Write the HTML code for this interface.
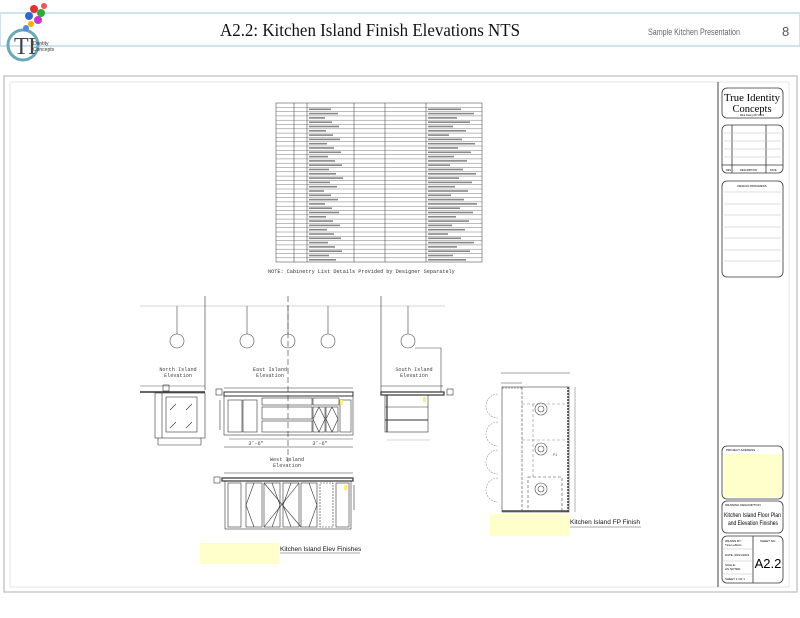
<!DOCTYPE html>
<html><head><meta charset="utf-8"><style>
html,body{margin:0;padding:0;background:#fff;width:800px;height:618px;overflow:hidden}
svg{display:block}
</style></head><body>
<svg width="800" height="618" viewBox="0 0 800 618" xmlns="http://www.w3.org/2000/svg" font-family="Liberation Sans, sans-serif">
<!-- header -->
<rect x="0" y="13" width="800" height="33" fill="#fff" stroke="#cfe3ee" stroke-width="2"/>
<text x="220" y="36" font-family="Liberation Serif, serif" font-size="18" fill="#111" textLength="300" lengthAdjust="spacingAndGlyphs">A2.2: Kitchen Island Finish Elevations NTS</text>
<text x="648" y="35" font-size="9" fill="#666" textLength="92" lengthAdjust="spacingAndGlyphs">Sample Kitchen Presentation</text>
<text x="782" y="36" font-size="13" fill="#555">8</text>
<!-- logo -->
<circle cx="23" cy="45" r="15" fill="none" stroke="#6aa7b8" stroke-width="3"/>
<text x="14" y="54" font-family="Liberation Serif, serif" font-size="24" fill="#444">T</text>
<text x="28" y="54" font-family="Liberation Serif, serif" font-size="24" fill="#444">I</text>
<text x="33" y="45" font-size="5" fill="#333">Dentity</text>
<text x="33" y="51" font-size="5" fill="#333">Concepts</text>
<g>
<circle cx="34" cy="9" r="4" fill="#d33"/><circle cx="41" cy="13" r="4" fill="#3a3"/><circle cx="29" cy="16" r="4" fill="#36c"/><circle cx="38" cy="20" r="4" fill="#c3c"/><circle cx="31" cy="24" r="3" fill="#fa0"/><circle cx="44" cy="6" r="3" fill="#e55"/><circle cx="26" cy="28" r="3" fill="#58d"/>
</g>
<!-- frames -->
<rect x="4" y="76" width="793" height="516" fill="none" stroke="#c8c8c8" stroke-width="1.5"/>
<rect x="10" y="82" width="779" height="505" fill="none" stroke="#e4e4e4" stroke-width="1"/>
<line x1="718" y1="82" x2="718" y2="587" stroke="#444" stroke-width="1"/>
<!-- title block -->
<g fill="none" stroke="#333" stroke-width="0.8">
<rect x="722" y="88" width="61" height="30" rx="5"/>
<rect x="722" y="125" width="61" height="48" rx="5"/>
<line x1="732" y1="125" x2="732" y2="173"/><line x1="766" y1="125" x2="766" y2="173"/>
<line x1="722" y1="165" x2="783" y2="165"/>
<rect x="722" y="181" width="61" height="96" rx="5"/>
<rect x="722" y="446" width="61" height="53" rx="5"/>
<rect x="722" y="501" width="61" height="32" rx="5"/>
<rect x="722" y="536" width="61" height="47" rx="5"/>
<line x1="753" y1="536" x2="753" y2="583"/>
</g>
<g stroke="#bbb" stroke-width="0.5">
<line x1="724" y1="133" x2="781" y2="133"/><line x1="724" y1="141" x2="781" y2="141"/><line x1="724" y1="149" x2="781" y2="149"/><line x1="724" y1="157" x2="781" y2="157"/>
<line x1="724" y1="192" x2="781" y2="192"/><line x1="724" y1="204" x2="781" y2="204"/><line x1="724" y1="215" x2="781" y2="215"/><line x1="724" y1="227" x2="781" y2="227"/><line x1="724" y1="238" x2="781" y2="238"/><line x1="724" y1="250" x2="781" y2="250"/><line x1="724" y1="261" x2="781" y2="261"/>
<line x1="722" y1="549" x2="753" y2="549"/><line x1="722" y1="561" x2="753" y2="561"/><line x1="722" y1="574" x2="753" y2="574"/>
</g>
<text x="752" y="101" font-family="Liberation Serif, serif" font-size="10.5" text-anchor="middle" textLength="56" lengthAdjust="spacingAndGlyphs">True Identity</text>
<text x="752" y="112" font-family="Liberation Serif, serif" font-size="10.5" text-anchor="middle">Concepts</text>
<text x="752" y="116" font-size="2.5" text-anchor="middle">Mina Fasey 607-0822</text>
<text x="726" y="171" font-size="2.5">REV</text><text x="740" y="171" font-size="2.5">DESCRIPTION</text><text x="770" y="171" font-size="2.5">DATE</text>
<text x="752" y="187" font-size="3" text-anchor="middle">DESIGN PROGRESS</text>
<rect x="724" y="454" width="57" height="43" fill="#ffffcc"/>
<text x="726" y="451" font-size="3">PROJECT ADDRESS</text>
<text x="725" y="506" font-size="3">DRAWING DESCRIPTION</text>
<text x="724" y="517" font-size="6" textLength="57" lengthAdjust="spacingAndGlyphs">Kitchen Island Floor Plan</text>
<text x="728" y="525" font-size="6" textLength="50" lengthAdjust="spacingAndGlyphs">and Elevation Finishes</text>
<text x="725" y="542" font-size="3">DRAWN BY:</text><text x="725" y="546" font-size="3">Tina Lefferts</text>
<text x="725" y="556" font-size="3">DATE: 09/21/2021</text>
<text x="725" y="566" font-size="3">SCALE:</text><text x="725" y="570" font-size="3">AS NOTED</text>
<text x="725" y="580" font-size="3">SHEET 1 OF 1</text>
<text x="760" y="542" font-size="3">SHEET NO.</text>
<text x="768" y="568" font-size="13" text-anchor="middle">A2.2</text>
<!-- table -->
<g fill="none" stroke="#333" stroke-width="0.5">
<rect x="276" y="103" width="206" height="159"/>
<line x1="294" y1="103" x2="294" y2="262"/><line x1="307" y1="103" x2="307" y2="262"/><line x1="354" y1="103" x2="354" y2="262"/><line x1="385" y1="103" x2="385" y2="262"/><line x1="426" y1="103" x2="426" y2="262"/>
</g>
<g id="rows" stroke="#555" stroke-width="0.4"></g>
<g id="rtext" fill="#666" font-size="2.6"></g>
<text x="268" y="273" font-family="Liberation Mono, monospace" font-size="5.2" fill="#333">NOTE: Cabinetry List Details Provided by Designer Separately</text>
<!-- elevations -->
<g fill="none" stroke="#333" stroke-width="0.6">
<line x1="140" y1="306" x2="445" y2="306" stroke="#aaa"/>
<line x1="205" y1="296" x2="205" y2="390"/>
<line x1="381" y1="296" x2="381" y2="392"/>
<line x1="288" y1="296" x2="288" y2="462" stroke-dasharray="6,3"/>
<g stroke="#444">
<line x1="177" y1="306" x2="177" y2="334"/><circle cx="177" cy="341" r="7"/>
<line x1="247" y1="306" x2="247" y2="334"/><circle cx="247" cy="341" r="7"/>
<line x1="288" y1="306" x2="288" y2="334"/><circle cx="288" cy="341" r="7"/>
<line x1="328" y1="306" x2="328" y2="334"/><circle cx="328" cy="341" r="7"/>
<line x1="408" y1="306" x2="408" y2="334"/><circle cx="408" cy="341" r="7"/>
<polyline points="415,348 441,348 441,392"/>
</g>
<!-- north -->
<line x1="140" y1="392" x2="205" y2="392" stroke-width="1.6"/>
<rect x="163" y="385" width="6" height="6"/>
<rect x="155" y="393" width="50" height="45"/>
<rect x="166" y="397" width="31" height="35"/>
<line x1="170" y1="410" x2="176" y2="404"/><line x1="186" y1="410" x2="192" y2="404"/>
<line x1="170" y1="428" x2="176" y2="422"/><line x1="186" y1="428" x2="192" y2="422"/>
<line x1="162" y1="393" x2="162" y2="438"/>
<line x1="158" y1="438" x2="158" y2="445"/><line x1="201" y1="438" x2="201" y2="445"/><line x1="158" y1="445" x2="201" y2="445"/>
<line x1="140" y1="386" x2="205" y2="386" stroke-width="0.4"/>
<!-- east -->
<rect x="224" y="392" width="129" height="4" stroke-width="1"/>
<rect x="224" y="396" width="129" height="39"/>
<rect x="228" y="400" width="14" height="32"/><rect x="243" y="400" width="14" height="32"/>
<rect x="262" y="398" width="50" height="7"/><rect x="262" y="407" width="50" height="12"/><rect x="262" y="421" width="50" height="11"/>
<rect x="313" y="398" width="26" height="7"/>
<rect x="313" y="407" width="12" height="25"/><rect x="326" y="407" width="12" height="25"/>
<polyline points="319,407 313,419 319,432 325,419 319,407"/><polyline points="332,407 326,419 332,432 338,419 332,407"/>
<rect x="340" y="400" width="11" height="32"/>
<line x1="220" y1="400" x2="220" y2="430"/>
<line x1="229" y1="439" x2="353" y2="439" stroke-width="0.4"/>
<line x1="224" y1="447" x2="353" y2="447" stroke-width="0.5"/>
<line x1="224" y1="388" x2="353" y2="388" stroke-width="0.5"/>
<rect x="216" y="389" width="6" height="6"/>
<!-- south -->
<rect x="381" y="392" width="63" height="3" stroke-width="1.2"/>
<rect x="385" y="395" width="43" height="37"/>
<line x1="385" y1="407" x2="428" y2="407"/><line x1="385" y1="420" x2="428" y2="420" stroke-width="1"/>
<line x1="387" y1="395" x2="387" y2="432" stroke-width="1.2"/>
<line x1="387" y1="440" x2="430" y2="440" stroke="#aaa"/>
<line x1="381" y1="386" x2="443" y2="386" stroke-width="0.5"/>
<rect x="447" y="389" width="6" height="6"/>
<!-- west -->
<rect x="222" y="478" width="131" height="3" stroke-width="1.2"/>
<rect x="225" y="481" width="126" height="48"/>
<rect x="228" y="483" width="13" height="44"/>
<rect x="246" y="483" width="16" height="44"/><rect x="264" y="483" width="16" height="44"/>
<rect x="283" y="483" width="16" height="44"/><rect x="301" y="483" width="16" height="44"/>
<polyline points="254,483 246,505 254,527"/><polyline points="272,483 280,505 272,527"/>
<polyline points="291,483 283,505 291,527"/><polyline points="309,483 317,505 309,527"/>
<line x1="264" y1="483" x2="301" y2="527"/><line x1="299" y1="483" x2="264" y2="527"/>
<rect x="320" y="483" width="13" height="44" stroke-dasharray="2,1"/><rect x="336" y="483" width="13" height="44"/>
<line x1="354" y1="485" x2="354" y2="510"/>
<line x1="224" y1="473" x2="353" y2="473" stroke-width="0.5"/>
<rect x="214" y="477" width="6" height="6"/>
</g>
<rect x="340" y="400" width="3" height="5" fill="#ffec80"/>
<rect x="423" y="397" width="3" height="5" fill="#ffec80"/>
<rect x="344" y="485" width="3" height="5" fill="#ffec80"/>
<g font-family="Liberation Mono, monospace" font-size="5.2" fill="#444" text-anchor="middle">
<text x="178" y="371">North Island</text><text x="178" y="377">Elevation</text>
<text x="270" y="371">East Island</text><text x="270" y="377">Elevation</text>
<text x="414" y="371">South Island</text><text x="414" y="377">Elevation</text>
<text x="287" y="461">West Island</text><text x="287" y="467">Elevation</text>
<text x="256" y="445">3'-6"</text><text x="320" y="445">3'-6"</text>
</g>
<!-- floor plan -->
<g fill="none" stroke="#444" stroke-width="0.6">
<line x1="501" y1="373" x2="570" y2="373"/><line x1="501" y1="383" x2="522" y2="383"/>
<rect x="502" y="387" width="67" height="125"/>
<line x1="522" y1="387" x2="522" y2="512" stroke-dasharray="3,1.5"/>
<line x1="568" y1="387" x2="568" y2="512" stroke-width="1.6" stroke-dasharray="2,1"/>
<line x1="502" y1="388" x2="522" y2="388" stroke-dasharray="2,1"/>
<line x1="502" y1="511" x2="568" y2="511" stroke-width="1.4"/>
<line x1="522" y1="404" x2="568" y2="404" stroke-dasharray="3,2" stroke="#888"/>
<line x1="533" y1="404" x2="533" y2="477" stroke-dasharray="3,2" stroke="#888"/>
<line x1="522" y1="440" x2="568" y2="440" stroke-dasharray="3,2" stroke="#888"/>
<rect x="528" y="477" width="34" height="34" stroke-dasharray="3,2"/>
<circle cx="541" cy="409" r="6"/><circle cx="541" cy="409" r="3"/>
<circle cx="541" cy="449" r="6"/><circle cx="541" cy="449" r="3"/>
<circle cx="541" cy="489" r="6"/><circle cx="541" cy="489" r="3"/>
<g stroke="#999" stroke-dasharray="2,1">
<path d="M498 394 A12 12 0 0 0 498 418"/><path d="M498 422 A12 12 0 0 0 498 446"/><path d="M498 450 A12 12 0 0 0 498 474"/><path d="M498 478 A12 12 0 0 0 498 502"/>
</g>
<line x1="575" y1="387" x2="575" y2="512" stroke-width="0.4"/>
</g>
<text x="553" y="456" font-size="3.5" fill="#333">F1</text>
<rect x="490" y="514" width="80" height="22" fill="#ffffcc"/>
<text x="570" y="524" font-size="6.5" fill="#111">Kitchen Island FP Finish</text>
<line x1="570" y1="527" x2="641" y2="527" stroke="#555" stroke-width="0.5"/>
<rect x="200" y="543" width="79" height="21" fill="#ffffcc"/>
<text x="280" y="551" font-size="6.5" fill="#111">Kitchen Island Elev Finishes</text>
<line x1="280" y1="553" x2="360" y2="553" stroke="#555" stroke-width="0.5"/>
</svg>
<script>
var r=document.getElementById('rows'),t=document.getElementById('rtext'),ns='http://www.w3.org/2000/svg';
for(var i=1;i<37;i++){var y=103+i*4.3;var l=document.createElementNS(ns,'line');l.setAttribute('x1',276);l.setAttribute('x2',482);l.setAttribute('y1',y);l.setAttribute('y2',y);r.appendChild(l);
var s=document.createElementNS(ns,'rect');s.setAttribute('x',428);s.setAttribute('y',y+1.2);s.setAttribute('width',20+(i*13)%30);s.setAttribute('height',1.6);s.setAttribute('fill','#888');t.appendChild(s);
var s2=document.createElementNS(ns,'rect');s2.setAttribute('x',309);s2.setAttribute('y',y+1.2);s2.setAttribute('width',15+(i*7)%20);s2.setAttribute('height',1.6);s2.setAttribute('fill','#888');t.appendChild(s2);}
</script>
</body></html>
